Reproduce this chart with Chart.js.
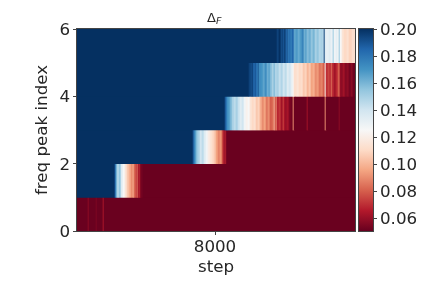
<!DOCTYPE html>
<html>
<head>
<meta charset="utf-8">
<script src="https://cdn.jsdelivr.net/npm/chart.js@4"></script>
<style>
    html, body { margin: 0; background: #fff; overflow: hidden; }
    canvas { position: absolute; left: 0; top: 0; }
</style>
</head>
<body>
<canvas id="heatmap" width="423" height="282"></canvas>
<canvas id="colorbar" width="423" height="282"></canvas>
<script>
// === DATA ===
// each freq peak row is a list of runs: the step where a run ends and its delta value
const row0Ends   = [7492, 7496, 7524, 7528, 7552, 7556, 8560];
const row0Values = [.051, .058, .051, .055, .051, .064, .051];

const row1Ends   = [7600, 7604, 7608, 7612, 7616, 7624, 7632, 7640, 7648, 7656, 7664, 7672, 7676, 7684, 7688, 7692, 7696, 7700, 7704, 7712, 8560];
const row1Values = [.2, .185, .165, .15, .145, .155, .135, .125, .115, .105, .098, .09, .098, .082, .07, .085, .062, .07, .058, .053, .051];

const row2Ends   = [7912, 7916, 7920, 7924, 7928, 7932, 7940, 7948, 7956, 7964, 7972, 7980, 7988, 7996, 8004, 8012, 8020, 8028, 8032, 8036, 8040, 8044, 8048, 8560];
const row2Values = [.2, .19, .178, .17, .16, .155, .15, .14, .145, .135, .128, .12, .115, .11, .105, .095, .088, .092, .078, .07, .06, .068, .055, .051];

const row3Ends   = [8040, 8044, 8048, 8052, 8060, 8068, 8076, 8084, 8092, 8100, 8108, 8116, 8124, 8132, 8140, 8148, 8156, 8164, 8172, 8180, 8188, 8196, 8204, 8212, 8220, 8228, 8236, 8240, 8244, 8248, 8256, 8264, 8272, 8276, 8280, 8288, 8296, 8304, 8312, 8316, 8368, 8372, 8440, 8444, 8496, 8500, 8560];
const row3Values = [.2, .19, .182, .172, .168, .16, .15, .145, .15, .142, .135, .14, .128, .122, .125, .115, .11, .113, .105, .108, .098, .09, .095, .085, .09, .08, .083, .1, .075, .09, .068, .072, .062, .075, .065, .06, .063, .055, .052, .09, .051, .062, .051, .09, .051, .058, .051];

const row4Ends   = [8136, 8144, 8148, 8152, 8156, 8160, 8164, 8168, 8172, 8176, 8184, 8192, 8200, 8208, 8216, 8220, 8228, 8236, 8240, 8248, 8256, 8264, 8272, 8280, 8288, 8296, 8304, 8312, 8316, 8328, 8336, 8344, 8352, 8360, 8368, 8376, 8384, 8392, 8400, 8408, 8416, 8424, 8432, 8440, 8444, 8452, 8460, 8464, 8468, 8476, 8484, 8492, 8500, 8504, 8512, 8520, 8528, 8536, 8544, 8552, 8560];
const row4Values = [.2, .195, .19, .197, .188, .183, .19, .185, .175, .19, .172, .17, .165, .172, .162, .168, .158, .15, .16, .148, .15, .143, .148, .14, .145, .135, .14, .132, .125, .112, .115, .11, .112, .105, .108, .1, .105, .095, .098, .09, .093, .085, .088, .08, .12, .07, .075, .065, .085, .07, .062, .068, .08, .06, .058, .062, .056, .058, .053, .057, .052];

const row5Ends   = [8248, 8256, 8264, 8268, 8272, 8276, 8284, 8288, 8292, 8296, 8304, 8308, 8316, 8324, 8332, 8340, 8348, 8356, 8360, 8368, 8376, 8384, 8392, 8400, 8408, 8416, 8424, 8432, 8436, 8440, 8444, 8456, 8464, 8472, 8476, 8484, 8492, 8496, 8500, 8508, 8516, 8528, 8536, 8548, 8560];
const row5Values = [.2, .195, .2, .19, .197, .188, .195, .183, .19, .178, .182, .175, .185, .165, .168, .163, .168, .175, .16, .165, .158, .162, .155, .16, .15, .155, .148, .15, .145, .195, .135, .132, .135, .13, .152, .128, .132, .125, .155, .125, .115, .11, .113, .108, .112];

const rowEnds   = [row0Ends, row1Ends, row2Ends, row3Ends, row4Ends, row5Ends];
const rowValues = [row0Values, row1Values, row2Values, row3Values, row4Values, row5Values];

const firstStep = 7448;
const lastStep  = 8560;
const stepTicks = [8000];
const rowTicks  = [0, 2, 4, 6];

const deltaMin  = 0.0504;
const deltaMax  = 0.2;
const barTicks  = [0.06, 0.08, 0.10, 0.12, 0.14, 0.16, 0.18, 0.20];

// RdBu, low to high
const rdBu = ['#67001f', '#b2182b', '#d6604d', '#f4a582', '#fddbc7', '#f7f7f7', '#d1e5f0', '#92c5de', '#4393c3', '#2166ac', '#053061'];

// === HELPERS ===
const TEXT_COLOR = '#262626';
const LINE_COLOR = '#444444';
const FONT = { family: '"DejaVu Sans"', size: 16.7 };

function hexToRgb(hex) {
    return [1, 3, 5].map(i => parseInt(hex.slice(i, i + 2), 16));
}

function deltaColor(value) {
    const t    = Math.min(1, Math.max(0, (value - deltaMin) / (deltaMax - deltaMin))) * (rdBu.length - 1);
    const i    = Math.min(rdBu.length - 2, Math.floor(t));
    const a    = hexToRgb(rdBu[i]);
    const b    = hexToRgb(rdBu[i + 1]);
    const rgb  = a.map((c, k) => Math.round(c + (b[k] - c) * (t - i)));
    return `rgb(${rgb.join(',')})`;
}

function buildCells() {
    const cells = [];
    rowEnds.forEach((ends, row) => {
        let start = firstStep;
        ends.forEach((end, i) => {
            cells.push({ x: [start, end], y: row + 0.5, v: rowValues[row][i] });
            start = end;
        });
    });
    return cells;
}

const frame = {
    id: 'frame',
    // canvas middle baseline sits a bit above the digit centre, push y tick labels down
    beforeDraw(chart) {
        chart.scales.y.getLabelItems(chart.chartArea).forEach(item => { item.options.translation[1] += 1.5; });
    },
    afterDatasetsDraw(chart) {
        const { ctx, chartArea: a } = chart;
        ctx.save();
        ctx.strokeStyle = LINE_COLOR;
        ctx.lineWidth = 1;
        ctx.strokeRect(a.left - 0.5, a.top - 0.5, a.right - a.left + 1, a.bottom - a.top + 1);
        ctx.restore();
    },
};

// title is a delta with a subscript F, the title plugin can't mix sizes
const subscriptTitle = {
    id: 'subscriptTitle',
    afterDraw(chart) {
        const { ctx } = chart;
        ctx.save();
        ctx.fillStyle = TEXT_COLOR;
        ctx.textAlign = 'left';
        ctx.textBaseline = 'alphabetic';
        ctx.font = `13px ${FONT.family}`;
        ctx.fillText('Δ', 207, 22);
        ctx.font = `italic 9.5px ${FONT.family}`;
        ctx.fillText('F', 216, 24);
        ctx.restore();
    },
};

// === CHARTS ===
new Chart(document.getElementById('heatmap').getContext('2d'), {
    type: 'bar',
    data: {
        datasets: [{
            data: buildCells(),
            backgroundColor: c => deltaColor(c.raw.v),
            barPercentage: 1,
            categoryPercentage: 1,
        }],
    },
    options: {
        indexAxis: 'y',
        responsive: false,
        animation: false,
        layout: { padding: { left: 0, right: 68, top: 29, bottom: 0 } },
        plugins: {
            legend:  { display: false },
            tooltip: { enabled: false },
        },
        scales: {
            x: {
                type: 'linear',
                min: firstStep,
                max: lastStep,
                afterBuildTicks: s => { s.ticks = stepTicks.map(value => ({ value })); },
                afterFit: s => { s.height = 51; },
                grid:   { drawOnChartArea: false, tickLength: 4, color: LINE_COLOR },
                border: { display: false },
                ticks:  { color: TEXT_COLOR, font: FONT, padding: 3, maxRotation: 0, callback: value => String(value) },
                title:  { display: true, text: 'step', color: TEXT_COLOR, font: FONT, padding: { top: 0, bottom: 4 } },
            },
            y: {
                type: 'linear',
                min: 0,
                max: 6,
                offset: false,
                afterBuildTicks: s => { s.ticks = rowTicks.map(value => ({ value })); },
                afterFit: s => { s.width = 77; },
                grid:   { drawOnChartArea: false, offset: false, tickLength: 4, color: LINE_COLOR },
                border: { display: false },
                ticks:  { color: TEXT_COLOR, font: FONT, padding: 3 },
                title:  { display: true, text: 'freq peak index', color: TEXT_COLOR, font: FONT, padding: { top: 33, bottom: 0 } },
            },
        },
    },
    plugins: [frame, subscriptTitle],
});

new Chart(document.getElementById('colorbar').getContext('2d'), {
    type: 'bar',
    data: {
        labels: ['delta'],
        datasets: [{
            data: [[deltaMin, deltaMax]],
            barPercentage: 1,
            categoryPercentage: 1,
            backgroundColor: c => {
                const area = c.chart.chartArea;
                if (!area) return rdBu[0];
                const gradient = c.chart.ctx.createLinearGradient(0, area.bottom, 0, area.top);
                rdBu.forEach((color, i) => gradient.addColorStop(i / (rdBu.length - 1), color));
                return gradient;
            },
        }],
    },
    options: {
        responsive: false,
        animation: false,
        layout: { padding: { left: 359, right: 0, top: 29, bottom: 51 } },
        plugins: { legend: { display: false }, tooltip: { enabled: false } },
        scales: {
            x: { display: false },
            y: {
                type: 'linear',
                position: 'right',
                min: deltaMin,
                max: deltaMax,
                afterBuildTicks: s => { s.ticks = barTicks.map(value => ({ value })); },
                afterFit: s => { s.width = 50; },
                grid:   { drawOnChartArea: false, tickLength: 4, color: LINE_COLOR },
                border: { display: false },
                ticks:  { color: TEXT_COLOR, font: FONT, padding: 3, callback: value => value.toFixed(2) },
            },
        },
    },
    plugins: [frame],
});
</script>
</body>
</html>
